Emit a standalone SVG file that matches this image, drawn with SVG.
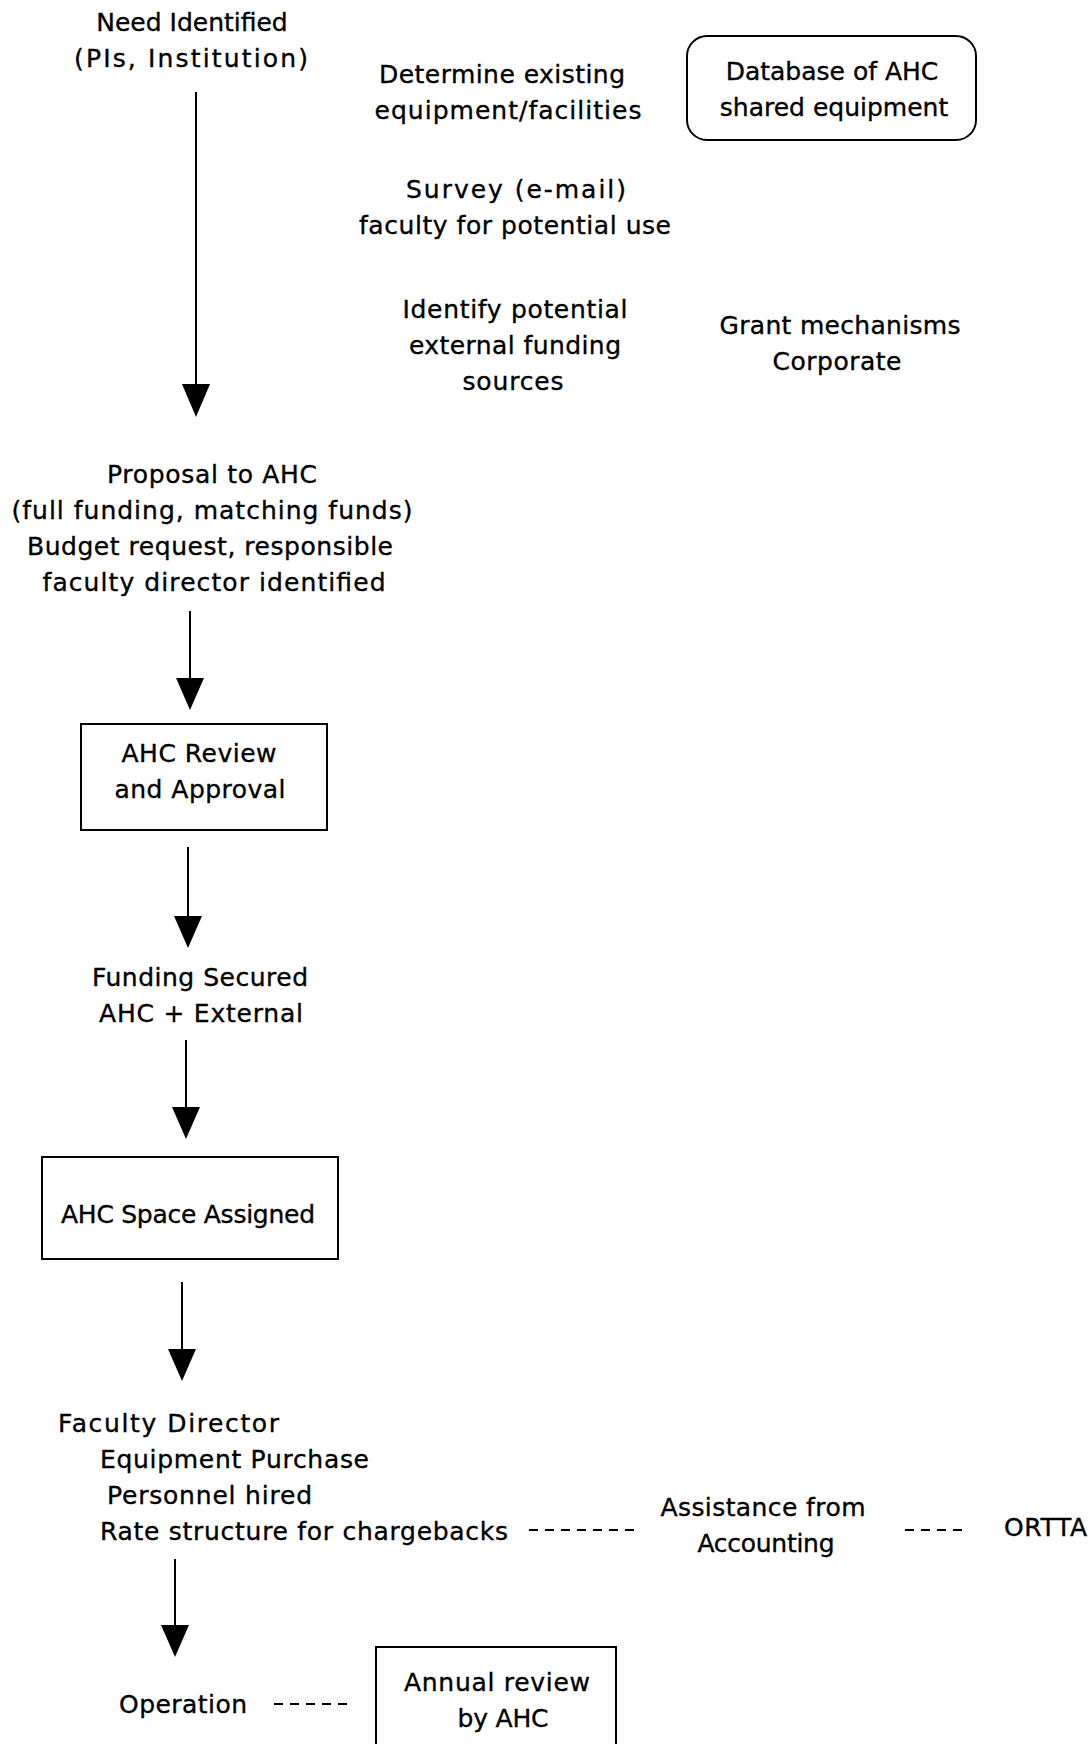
<svg xmlns="http://www.w3.org/2000/svg" width="1091" height="1744" viewBox="0 0 1091 1744">
  <style>
    text { font-family: "DejaVu Sans", "Liberation Sans", sans-serif; font-size: 25px; fill: #000; stroke: #000; stroke-width: 0.35; }
    .c { text-anchor: middle; }
    .box { fill: none; stroke: #000; stroke-width: 2; }
    .flow { stroke: #000; stroke-width: 2; fill: none; }
    .dash { stroke: #000; stroke-width: 2; stroke-dasharray: 9 7; fill: none; }
    .head { fill: #000; }
  </style>
  <rect width="1091" height="1744" fill="#fff"/>

  <g id="connectors">
    <line class="flow" x1="196" y1="92" x2="196" y2="386"/>
    <polygon class="head" points="182,384 210,384 196,417"/>
    <line class="flow" x1="190" y1="611" x2="190" y2="680"/>
    <polygon class="head" points="176,678 204,678 190,710"/>
    <line class="flow" x1="188" y1="847" x2="188" y2="918"/>
    <polygon class="head" points="174,916 202,916 188,948"/>
    <line class="flow" x1="186" y1="1040" x2="186" y2="1109"/>
    <polygon class="head" points="172,1107 200,1107 186,1139"/>
    <line class="flow" x1="182" y1="1282" x2="182" y2="1351"/>
    <polygon class="head" points="168,1349 196,1349 182,1381"/>
    <line class="flow" x1="175" y1="1559" x2="175" y2="1627"/>
    <polygon class="head" points="161,1625 189,1625 175,1657"/>
    <line class="dash" x1="529" y1="1530" x2="634" y2="1530"/>
    <line class="dash" x1="905" y1="1530" x2="962" y2="1530"/>
    <line class="dash" x1="274" y1="1704" x2="350" y2="1704"/>
  </g>

  <g id="need">
    <text class="c" x="192" y="31">Need Identified</text>
    <text class="c" x="191" y="67" textLength="234" lengthAdjust="spacing">(PIs,  Institution)</text>
  </g>
  <g id="existing">
    <text class="c" x="502" y="83" textLength="246" lengthAdjust="spacing">Determine existing</text>
    <text class="c" x="508" y="119" textLength="267" lengthAdjust="spacing">equipment/facilities</text>
  </g>
  <g id="database">
    <rect class="box" x="687" y="36" width="289" height="104" rx="20"/>
    <text class="c" x="832" y="80">Database of AHC</text>
    <text class="c" x="834" y="116">shared equipment</text>
  </g>
  <g id="survey">
    <text class="c" x="516" y="198" textLength="220" lengthAdjust="spacing">Survey  (e-mail)</text>
    <text class="c" x="515" y="234" textLength="312" lengthAdjust="spacing">faculty for potential use</text>
  </g>
  <g id="funding-sources">
    <text class="c" x="515" y="318" textLength="225" lengthAdjust="spacing">Identify potential</text>
    <text class="c" x="515" y="354" textLength="212" lengthAdjust="spacing">external funding</text>
    <text class="c" x="513" y="390" textLength="101" lengthAdjust="spacing">sources</text>
  </g>
  <g id="grant">
    <text class="c" x="840" y="334" textLength="241" lengthAdjust="spacing">Grant mechanisms</text>
    <text class="c" x="837" y="370" textLength="129" lengthAdjust="spacing">Corporate</text>
  </g>
  <g id="proposal">
    <text class="c" x="212" y="483" textLength="210" lengthAdjust="spacing">Proposal to AHC</text>
    <text class="c" x="212" y="519" textLength="401" lengthAdjust="spacing">(full funding, matching funds)</text>
    <text class="c" x="210" y="555" textLength="366" lengthAdjust="spacing">Budget request, responsible</text>
    <text class="c" x="214" y="591" textLength="343" lengthAdjust="spacing">faculty director identified</text>
  </g>
  <g id="review">
    <rect class="box" x="81" y="724" width="246" height="106"/>
    <text class="c" x="199" y="762" textLength="155" lengthAdjust="spacing">AHC Review</text>
    <text class="c" x="200" y="798" textLength="171" lengthAdjust="spacing">and Approval</text>
  </g>
  <g id="funding-secured">
    <text class="c" x="200" y="986" textLength="216" lengthAdjust="spacing">Funding Secured</text>
    <text class="c" x="201" y="1022" textLength="204" lengthAdjust="spacing">AHC + External</text>
  </g>
  <g id="space">
    <rect class="box" x="42" y="1157" width="296" height="102"/>
    <text class="c" x="188" y="1223" textLength="254" lengthAdjust="spacing">AHC Space Assigned</text>
  </g>
  <g id="director">
    <text x="58" y="1432" textLength="221" lengthAdjust="spacing">Faculty  Director</text>
    <text x="100" y="1468" textLength="269" lengthAdjust="spacing">Equipment Purchase</text>
    <text x="107" y="1504" textLength="205" lengthAdjust="spacing">Personnel hired</text>
    <text x="100" y="1540" textLength="408" lengthAdjust="spacing">Rate structure for chargebacks</text>
  </g>
  <g id="accounting">
    <text class="c" x="763" y="1516" textLength="205" lengthAdjust="spacing">Assistance from</text>
    <text class="c" x="766" y="1552" textLength="137" lengthAdjust="spacing">Accounting</text>
  </g>
  <g id="ortta">
    <text x="1004" y="1536" textLength="83" lengthAdjust="spacing">ORTTA</text>
  </g>
  <g id="operation">
    <text x="119" y="1713" textLength="128" lengthAdjust="spacing">Operation</text>
  </g>
  <g id="annual">
    <path class="box" d="M376,1746 V1647 H616 V1746"/>
    <text class="c" x="497" y="1691" textLength="186" lengthAdjust="spacing">Annual review</text>
    <text class="c" x="503" y="1727" textLength="91" lengthAdjust="spacing">by AHC</text>
  </g>
</svg>
